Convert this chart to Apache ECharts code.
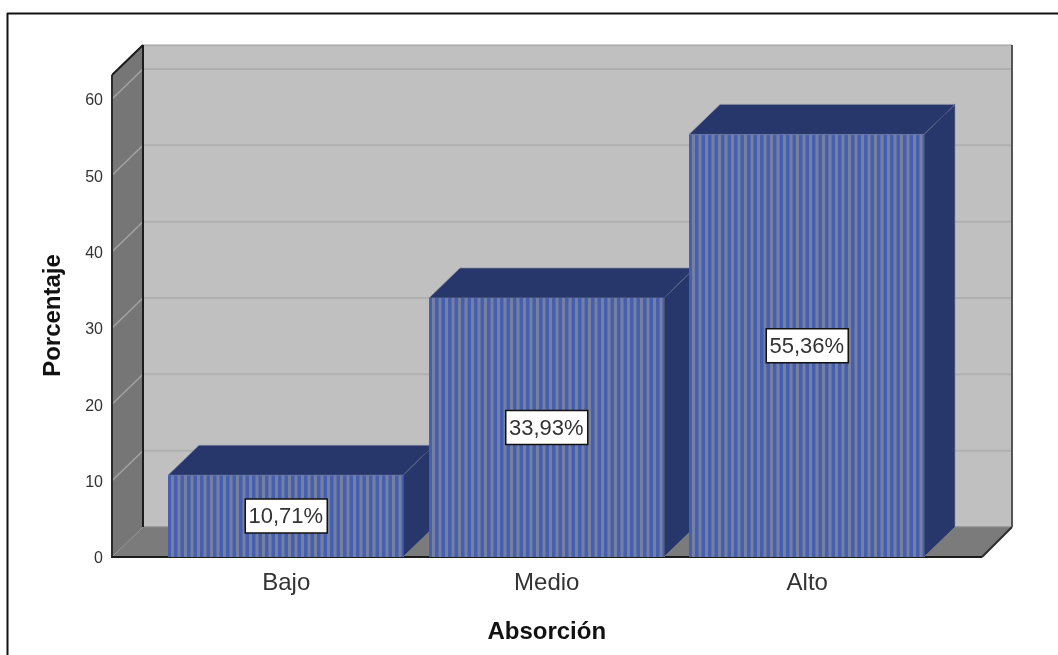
<!DOCTYPE html>
<html>
<head>
<meta charset="utf-8">
<style>html,body{margin:0;padding:0;background:#fff}#chart{width:1058px;height:655px}</style>
<script src="https://cdn.jsdelivr.net/npm/echarts@6/dist/echarts.min.js"></script>
</head>
<body>
<div id="chart"></div>
<script>
// Absorción levels and their share of respondents, in percent
const categories = ['Bajo', 'Medio', 'Alto'];
const percentages = [10.71, 33.93, 55.36];
const yTicks = [0, 10, 20, 30, 40, 50, 60];

// Box depth of the pseudo-3D projection, in pixels
const DEPTH_X = 31, DEPTH_Y = 30;
const WALL_TOP = 63.14;      // front edge of the left wall, in axis units
const FLOOR_PAD_LEFT = 44, FLOOR_PAD_RIGHT = 44.5;
const STRIPE_PERIOD = 6.5;
const FONT = '"Liberation Sans", Arial, sans-serif';

const poly = (points, fill, stroke, lineWidth) => ({
  type: 'polygon',
  shape: { points },
  style: { fill, stroke: stroke || 'none', lineWidth: lineWidth || 0 }
});
const seg = (a, b, stroke, lineWidth) => ({
  type: 'line',
  shape: { x1: a[0], y1: a[1], x2: b[0], y2: b[1] },
  style: { stroke, lineWidth }
});

// Back wall, side wall, floor and their grid lines
function renderRoom(params, api) {
  const cs = params.coordSys;
  const left = cs.x - FLOOR_PAD_LEFT;
  const right = cs.x + cs.width + FLOOR_PAD_RIGHT;
  const y0 = api.coord([0, 0])[1];
  const yTop = api.coord([0, WALL_TOP])[1];
  const bx = left + DEPTH_X, brx = right + DEPTH_X - 1;
  const children = [
    poly([[bx, yTop - DEPTH_Y], [brx, yTop - DEPTH_Y], [brx, y0 - DEPTH_Y], [bx, y0 - DEPTH_Y]], '#c0c0c0', '#9a9a9a', 1),
    poly([[left, yTop], [bx, yTop - DEPTH_Y], [bx, y0 - DEPTH_Y], [left, y0]], '#767676'),
    poly([[left, y0], [bx, y0 - DEPTH_Y], [brx, y0 - DEPTH_Y], [right, y0]], '#7b7b7b')
  ];
  yTicks.forEach(t => {
    if (t === 0) return;
    const y = api.coord([0, t])[1];
    children.push(seg([left, y], [bx, y - DEPTH_Y], '#a3a3a3', 1.5));
    children.push(seg([bx, y - DEPTH_Y], [brx, y - DEPTH_Y], '#b0b0b0', 2));
  });
  children.push(
    seg([bx, y0 - DEPTH_Y], [brx, y0 - DEPTH_Y], '#8c8c8c', 1),
    seg([left, yTop], [left, y0 + 1], '#2b2b2b', 2),
    seg([left, yTop], [bx, yTop - DEPTH_Y], '#1c1c1c', 2),
    seg([bx, yTop - DEPTH_Y], [bx, y0 - DEPTH_Y], '#1c1c1c', 2),
    seg([left, y0], [right, y0], '#1c1c1c', 2),
    seg([right, y0], [brx, y0 - DEPTH_Y], '#2b2b2b', 2),
    seg([brx, yTop - DEPTH_Y], [brx, y0 - DEPTH_Y], '#555555', 2)
  );
  return { type: 'group', children };
}

// One extruded column: striped front, dark top and side, boxed value label
function renderColumn(params, api) {
  const value = api.value(1);
  const center = api.coord([api.value(0), value]);
  const base = api.coord([api.value(0), 0]);
  const w = api.size([1, 0])[0] * 0.902;
  const l = Math.floor(center[0] - w / 2), r = l + Math.round(w);
  const t = center[1], b = base[1];
  const children = [
    poly([[l, t], [l + DEPTH_X, t - DEPTH_Y], [r + DEPTH_X, t - DEPTH_Y], [r, t]], '#27376b', '#8a8f9f', 0.6),
    poly([[r, t], [r + DEPTH_X, t - DEPTH_Y], [r + DEPTH_X, b - DEPTH_Y], [r, b]], '#27376b', '#8a8f9f', 0.6),
    seg([r, t], [r + DEPTH_X, t - DEPTH_Y], '#45527f', 1),
    { type: 'rect', shape: { x: l, y: t, width: r - l, height: b - t }, style: { fill: '#4560b2' } }
  ];
  for (let x = l + 3; x < r - 1; x += STRIPE_PERIOD) {
    children.push({
      type: 'rect',
      shape: { x, y: t, width: Math.min(3, r - x), height: b - t },
      style: { fill: '#767f9e' }
    });
  }
  const cx = center[0], cy = (t + b) / 2;
  children.push(
    { type: 'rect', shape: { x: cx - 41, y: cy - 17, width: 82, height: 34 }, style: { fill: '#fff', stroke: '#111', lineWidth: 1.5 } },
    {
      type: 'text',
      style: {
        x: cx - 0.5, y: cy + 1,
        text: value.toFixed(2).replace('.', ',') + '%',
        fill: '#333', font: '22px ' + FONT,
        align: 'center', verticalAlign: 'middle'
      }
    }
  );
  return { type: 'group', children };
}

const chart = echarts.init(document.getElementById('chart'), null, { renderer: 'canvas' });
chart.setOption({
  animation: false,
  backgroundColor: '#fff',
  grid: { left: 156, width: 781.5, top: 99, height: 458 },
  xAxis: {
    type: 'category',
    data: categories,
    name: 'Absorción',
    nameLocation: 'middle',
    nameGap: 63,
    nameTextStyle: { fontFamily: FONT, fontSize: 24, fontWeight: 'bold', color: '#111' },
    axisLine: { show: false },
    axisTick: { show: false },
    axisLabel: { fontFamily: FONT, fontSize: 24, color: '#333', margin: 14 }
  },
  yAxis: {
    type: 'value',
    min: 0,
    max: 60,
    interval: 10,
    offset: 44,
    name: 'Porcentaje',
    nameLocation: 'middle',
    nameGap: 47,
    nameTextStyle: { fontFamily: FONT, fontSize: 24, fontWeight: 'bold', color: '#111', padding: [0, 0, 0, 25] },
    axisLine: { show: false },
    axisTick: { show: false },
    splitLine: { show: false },
    axisLabel: { fontFamily: FONT, fontSize: 16, color: '#333', margin: 9, verticalAlign: 'top', lineHeight: 4 }
  },
  series: [
    { type: 'custom', z: 1, silent: true, renderItem: renderRoom, data: [[0, 0]], encode: { x: 0, y: 1 } },
    {
      type: 'custom', z: 2, silent: true, renderItem: renderColumn,
      data: percentages.map((v, i) => [i, v]),
      encode: { x: 0, y: 1 }
    }
  ],
  graphic: [
    // Open frame around the figure: left and top rules only
    { type: 'line', shape: { x1: 7.5, y1: 13, x2: 7.5, y2: 655 }, style: { stroke: '#111', lineWidth: 2 } },
    { type: 'line', shape: { x1: 7, y1: 13.5, x2: 1058, y2: 13.5 }, style: { stroke: '#111', lineWidth: 2 } }
  ]
});
</script>
</body>
</html>
